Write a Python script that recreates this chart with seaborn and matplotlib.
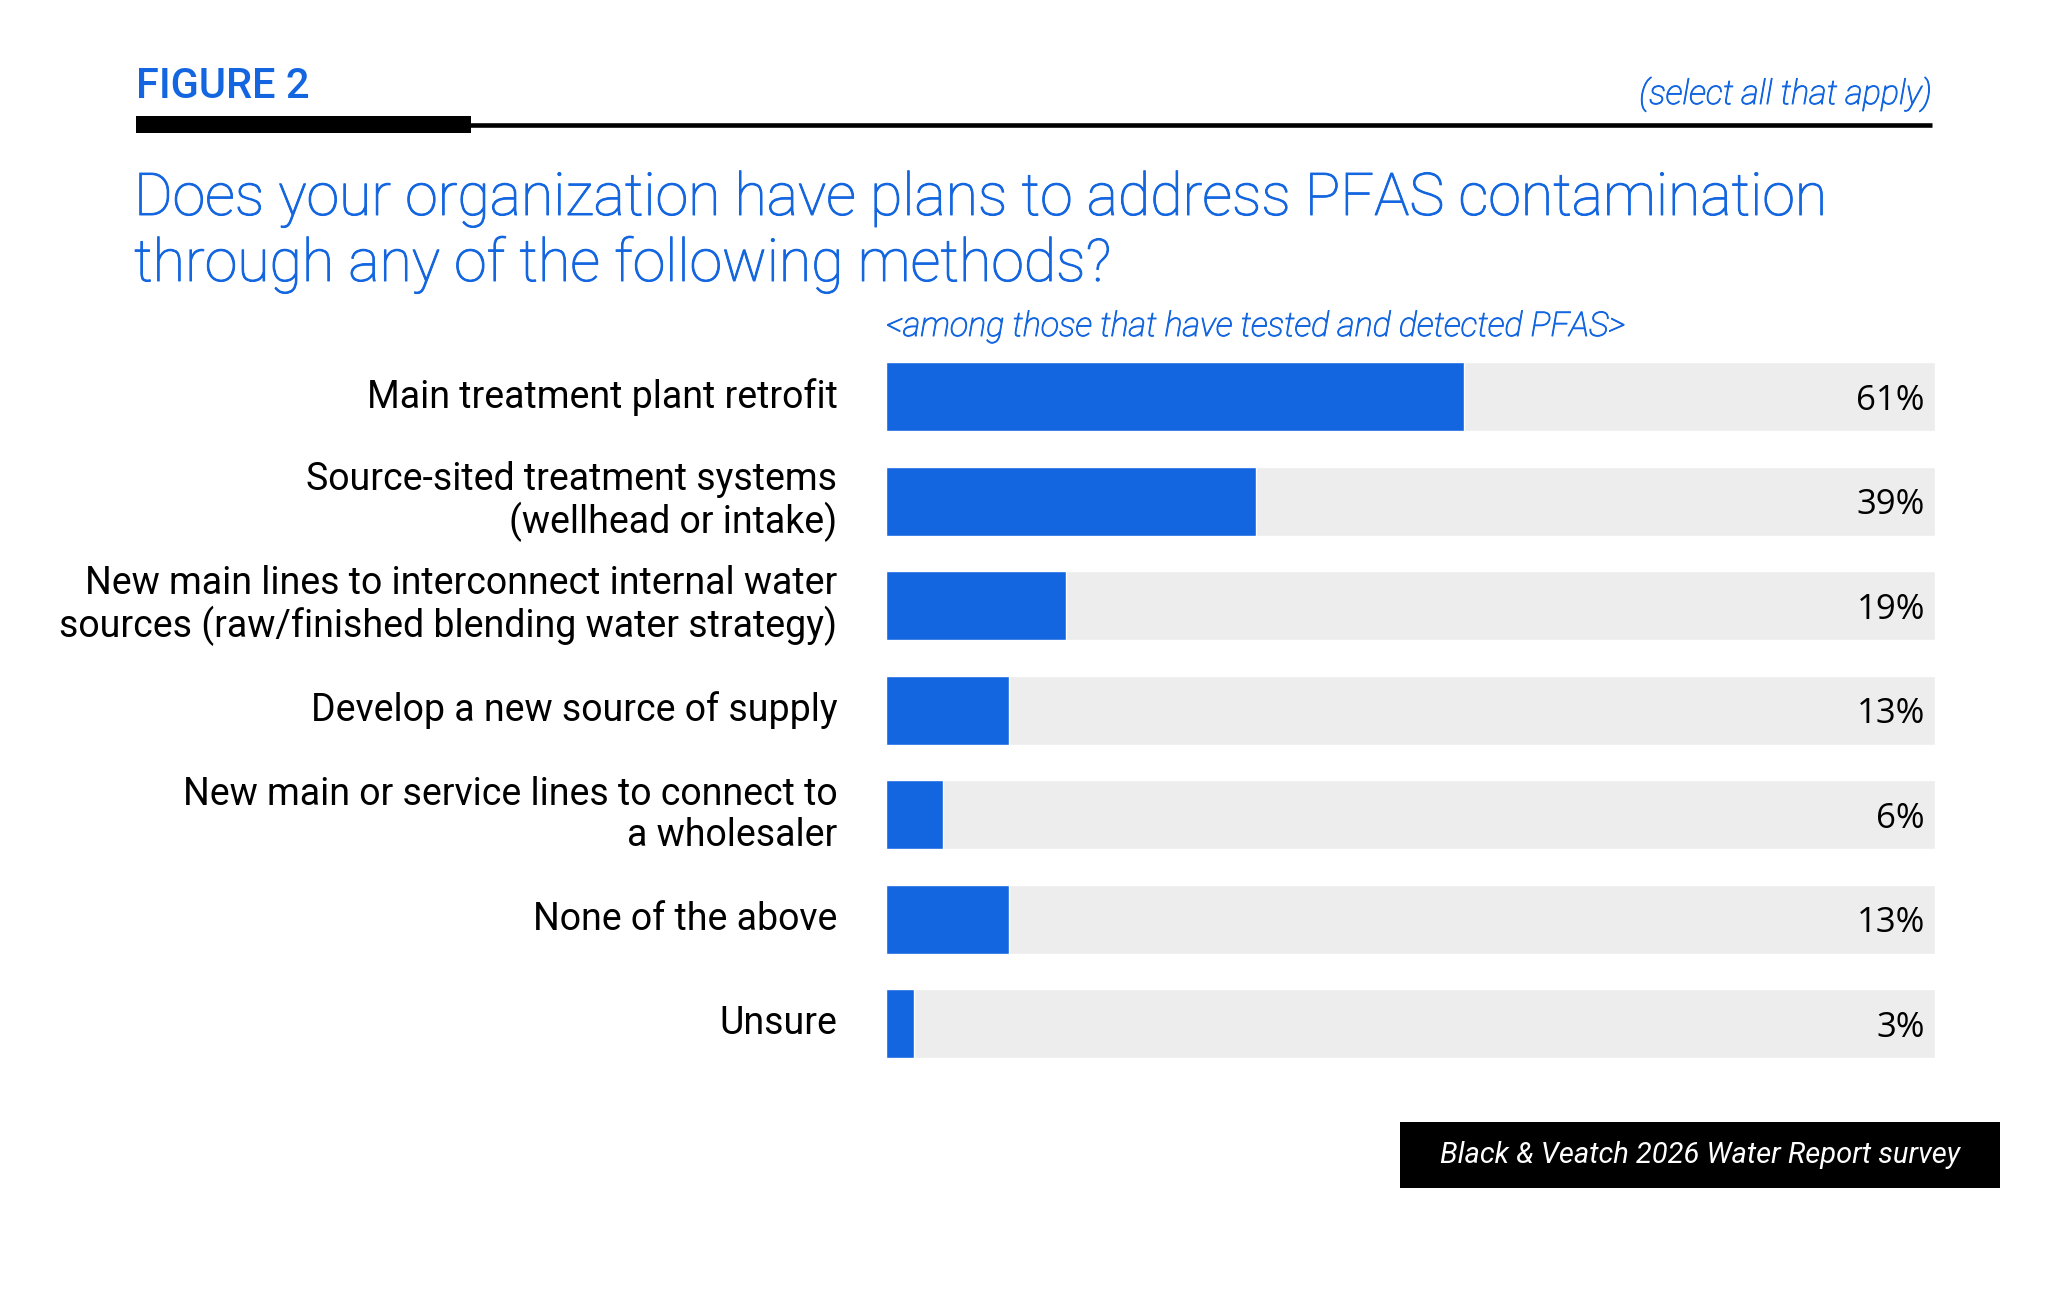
import matplotlib
matplotlib.use("Agg")
import matplotlib.pyplot as plt
import matplotlib.patheffects as pe
from matplotlib.patches import Rectangle
from matplotlib.lines import Line2D
import seaborn as sns

# data
categories = [
    "Main treatment plant retrofit",
    "Source-sited treatment systems\n(wellhead or intake)",
    "New main lines to interconnect internal water\nsources (raw/finished blending water strategy)",
    "Develop a new source of supply",
    "New main or service lines to connect to\na wholesaler",
    "None of the above",
    "Unsure",
]
values = [61, 39, 19, 13, 6, 13, 3]
value_labels = [f"{v}%" for v in values]

BLUE = "#1366E0"
TRACK = "#EDEDED"
W, H = 2067, 1303
TRACK_MAX = 110.65

sns.set_theme(style="white")
plt.rcParams["font.family"] = ["Roboto", "DejaVu Sans"]

fig = plt.figure(figsize=(W / 100, H / 100), dpi=100)
fig.patch.set_facecolor("white")

def fx(px):
    return px / W

def fy(py):
    return 1 - py / H

# light text is a touch heavier in the original
thick = [pe.withStroke(linewidth=0.7, foreground=BLUE)]

# axes placed in pixel terms
ax = fig.add_axes([fx(886), fy(1076.1), (1934.7 - 886) / W, (1076.1 - 344.4) / H])

sns.barplot(x=[TRACK_MAX] * len(categories), y=categories, orient="h",
            color=TRACK, width=0.66, ax=ax, saturation=1)
sns.barplot(x=values, y=categories, orient="h",
            color=BLUE, width=0.66, ax=ax, saturation=1)
ax.set_xlim(0, TRACK_MAX)
ax.set_ylim(len(categories) - 0.5, -0.5)
ax.set_xlabel("")
ax.set_ylabel("")
ax.set_xticks([])
sns.despine(ax=ax, left=True, bottom=True)
ax.tick_params(axis="y", length=0, pad=35, labelsize=27, labelcolor="black")
for lab in ax.get_yticklabels():
    lab.set_linespacing(1.12)
    lab.set_verticalalignment("center")

for i, s in enumerate(value_labels):
    ax.annotate(s, xy=(1.0, i), xycoords=("axes fraction", "data"),
                xytext=(-7, -3), textcoords="offset points",
                ha="right", va="center", fontsize=25, color="black",
                family=["Open Sans", "DejaVu Sans"])

# header
fig.text(fx(136), fy(98), "FIGURE 2", ha="left", va="baseline",
         fontsize=30, fontweight="medium", color=BLUE)
fig.text(fx(1932), fy(104), "(select all that apply)", ha="right", va="baseline",
         fontsize=24.6, fontstyle="italic", fontweight="light", color=BLUE,
         path_effects=thick)
fig.add_artist(Line2D([fx(136), fx(1932)], [fy(124.5), fy(124.5)],
                      transform=fig.transFigure, color="black", lw=3.3,
                      solid_capstyle="butt"))
fig.add_artist(Rectangle((fx(136), fy(133)), fx(471) - fx(136), fy(116) - fy(133),
                         transform=fig.transFigure, color="black", lw=0))

fig.text(fx(134), fy(215), "Does your organization have plans to address PFAS contamination",
         ha="left", va="baseline", fontsize=42.5, fontweight="light", color=BLUE,
         path_effects=thick)
fig.text(fx(134), fy(281), "through any of the following methods?",
         ha="left", va="baseline", fontsize=42.5, fontweight="light", color=BLUE,
         path_effects=thick)

fig.text(fx(886), fy(336), "<among those that have tested and detected PFAS>",
         ha="left", va="baseline", fontsize=24.5, fontstyle="italic",
         fontweight="light", color=BLUE, path_effects=thick)

# source box
fig.add_artist(Rectangle((fx(1400), fy(1188)), fx(2000) - fx(1400), fy(1122) - fy(1188),
                         transform=fig.transFigure, color="black", lw=0))
fig.text(fx(1700), fy(1155), "Black & Veatch 2026 Water Report survey",
         ha="center", va="center", fontsize=21, fontstyle="italic", color="white")

fig.savefig("out.png", dpi=100, facecolor="white")
